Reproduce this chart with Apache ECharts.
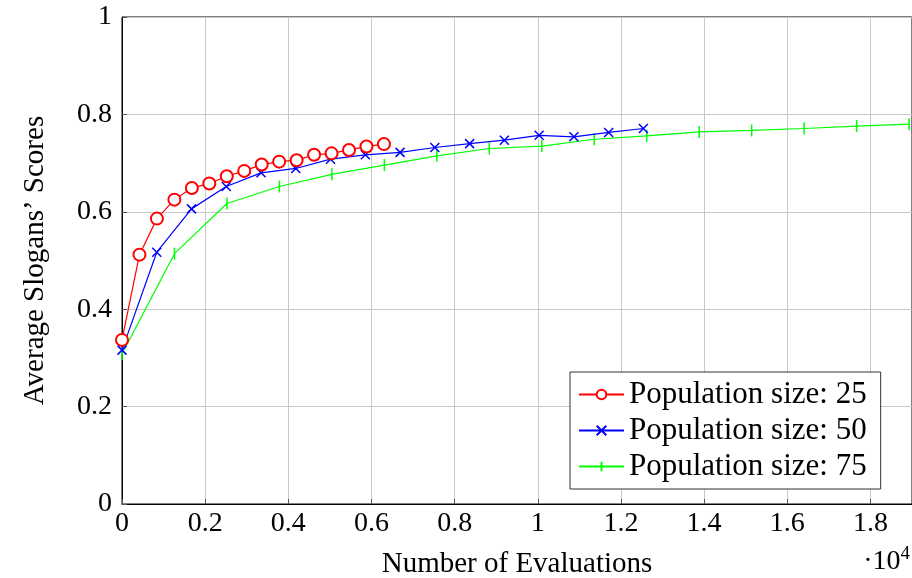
<!DOCTYPE html>
<html>
<head>
<meta charset="utf-8">
<script src="https://cdn.jsdelivr.net/npm/echarts@6/dist/echarts.min.js"></script>
<style>
  html, body { margin: 0; padding: 0; background: #fff; }
  #main { width: 912px; height: 578px; }
</style>
</head>
<body>
<div id="main"></div>
<script>
// evaluations (raw), axis shows them in units of 10^4
var redX = [0, 420, 840, 1260, 1680, 2100, 2520, 2940, 3360, 3780, 4200, 4620, 5040, 5460, 5880, 6300];
var redY = [0.337, 0.512, 0.586, 0.625, 0.649, 0.658, 0.673, 0.684, 0.697, 0.703, 0.706, 0.717, 0.720, 0.727, 0.734, 0.739];

var blueX = [0, 836, 1672, 2508, 3344, 4180, 5016, 5852, 6688, 7524, 8360, 9196, 10032, 10868, 11704, 12540];
var blueY = [0.316, 0.517, 0.606, 0.652, 0.680, 0.689, 0.708, 0.717, 0.722, 0.732, 0.740, 0.747, 0.757, 0.754, 0.763, 0.771];

var greenX = [0, 1262, 2524, 3786, 5048, 6310, 7572, 8834, 10096, 11358, 12620, 13882, 15144, 16406, 17668, 18930];
var greenY = [0.308, 0.514, 0.617, 0.652, 0.677, 0.696, 0.715, 0.730, 0.735, 0.749, 0.756, 0.764, 0.767, 0.771, 0.776, 0.780];

var seriesNames = ['Population size: 25', 'Population size: 50', 'Population size: 75'];

function pairs(xs, ys) {
	var out = [];
	for (var i = 0; i < xs.length; i++) {
		out.push([xs[i], ys[i]]);
	}
	return out;
}

var font = '"Liberation Serif", "DejaVu Serif", serif';
var chart = echarts.init(document.getElementById('main'));

var option = {
	animation: false,
	backgroundColor: '#fff',
	grid: {
		left: 122,
		right: 0,
		top: 17,
		bottom: 74,
		outerBoundsMode: 'none',
		containLabel: false,
		show: true,
		borderColor: '#000',
		borderWidth: 1
	},
	legend: {
		orient: 'vertical',
		left: 570,
		top: 372,
		padding: [7, 14, 7, 8],
		itemWidth: 45,
		itemHeight: 12,
		itemGap: 5,
		borderColor: '#333',
		borderWidth: 1,
		backgroundColor: '#fff',
		textStyle: { fontFamily: font, fontSize: 31, color: '#000' },
		data: seriesNames
	},
	xAxis: {
		type: 'value',
		min: 0,
		max: 19000,
		interval: 2000,
		name: 'Number of Evaluations',
		nameLocation: 'middle',
		nameGap: 46,
		nameTextStyle: { fontFamily: font, fontSize: 29, color: '#000' },
		axisLine: { lineStyle: { color: '#000', width: 1 } },
		axisTick: { inside: true, length: 5, lineStyle: { color: '#555' } },
		splitLine: { show: true, lineStyle: { color: '#c8c8c8', width: 1 } },
		axisLabel: {
			fontFamily: font, fontSize: 28, color: '#000', margin: 6,
			showMaxLabel: false,
			formatter: function(v) { return String(+(v / 10000).toFixed(1)); }
		}
	},
	yAxis: {
		type: 'value',
		min: 0,
		max: 1,
		interval: 0.2,
		name: "Average Slogans\u2019 Scores",
		nameLocation: 'middle',
		nameGap: 72,
		nameTextStyle: { fontFamily: font, fontSize: 29, color: '#000' },
		axisLine: { lineStyle: { color: '#000', width: 1 } },
		axisTick: { inside: true, length: 5, lineStyle: { color: '#555' } },
		splitLine: { show: true, lineStyle: { color: '#c8c8c8', width: 1 } },
		axisLabel: {
			fontFamily: font, fontSize: 28, color: '#000', margin: 10,
			formatter: function(v) { return String(+v.toFixed(1)); }
		}
	},
	graphic: [{
		type: 'text',
		right: 2,
		top: 545,
		style: {
			text: '\u00b710{s|4}',
			fontFamily: font,
			fontSize: 28,
			fill: '#000',
			rich: { s: { fontFamily: font, fontSize: 19, verticalAlign: 'top', padding: [0, 0, 14, 0] } }
		}
	}],
	series: [{
		name: seriesNames[0],
		type: 'line',
		data: pairs(redX, redY),
		symbol: 'emptyCircle',
		symbolSize: 12,
		showAllSymbol: true,
		lineStyle: { color: '#ff0000', width: 1.2 },
		itemStyle: { color: '#ff0000', borderWidth: 1.2 },
		z: 4
	}, {
		name: seriesNames[1],
		type: 'line',
		data: pairs(blueX, blueY),
		symbol: 'path://M0,0L10,10M10,0L0,10',
		symbolSize: 9,
		showAllSymbol: true,
		lineStyle: { color: '#0000ff', width: 1.2 },
		itemStyle: { color: '#0000ff', borderColor: '#0000ff', borderWidth: 1.5 },
		z: 3
	}, {
		name: seriesNames[2],
		type: 'line',
		data: pairs(greenX, greenY),
		symbol: 'path://M0,5L0,5M5,0L5,10M10,5L10,5',
		symbolSize: 12,
		showAllSymbol: true,
		lineStyle: { color: '#00ff00', width: 1.2 },
		itemStyle: { color: '#00ff00', borderColor: '#00ff00', borderWidth: 1.5 },
		z: 2
	}]
};

chart.setOption(option);
</script>
</body>
</html>
